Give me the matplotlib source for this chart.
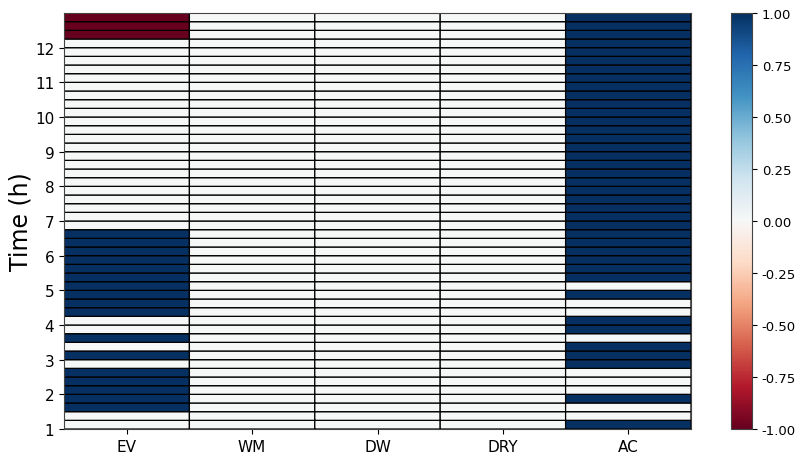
import numpy as np
import matplotlib
matplotlib.use("Agg")
import matplotlib.pyplot as plt

devices = ["EV", "WM", "DW", "DRY", "AC"]
t_start, t_step, n_steps = 1.0, 0.25, 48
yticks = list(range(1, 13))

ev = [0, 0, 1, 1, 1, 1, 1, 0, 1, 0, 1, 0, 0,
      1, 1, 1, 1, 1, 1, 1, 1, 1, 1] + [0] * 22 + [-1, -1, -1]
wm = [0] * 48
dw = [0] * 48
dry = [0] * 48
ac = [1, 0, 0, 1, 0, 0, 0, 1, 1, 1, 0, 1, 1, 0, 0, 1, 0] + [1] * 31

data = np.array([ev, wm, dw, dry, ac]).T  # rows = time steps

fig = plt.figure(figsize=(8.09, 4.64), dpi=100)
ax = fig.add_axes([64/809, 1 - 430/464, (691-64)/809, (430-14)/464])
cax = fig.add_axes([731/809, 1 - 430/464, (752-731)/809, (430-14)/464])

x_edges = np.arange(len(devices) + 1)
y_edges = t_start + t_step * np.arange(n_steps + 1)
mesh = ax.pcolormesh(x_edges, y_edges, data, cmap="RdBu", vmin=-1, vmax=1,
                     edgecolors="black", linewidth=0.9, antialiased=True)
mesh.set_snap(False)
ax.set_xlim(0, len(devices))
ax.set_ylim(y_edges[0], y_edges[-1])
ax.set_xticks(np.arange(len(devices)) + 0.5)
ax.set_xticklabels(devices, fontsize=11)
ax.set_yticks(yticks)
ax.set_yticklabels([str(v) for v in yticks], fontsize=11)
ax.set_ylabel("Time (h)", fontsize=17, labelpad=2)
for s in ax.spines.values():
    s.set_edgecolor("#444444")

cb = fig.colorbar(mesh, cax=cax, ticks=np.linspace(-1, 1, 9), format="%.2f")
cb.ax.tick_params(labelsize=9.5)
cb.outline.set_edgecolor("#444444")

fig.savefig("out.png", dpi=100)
